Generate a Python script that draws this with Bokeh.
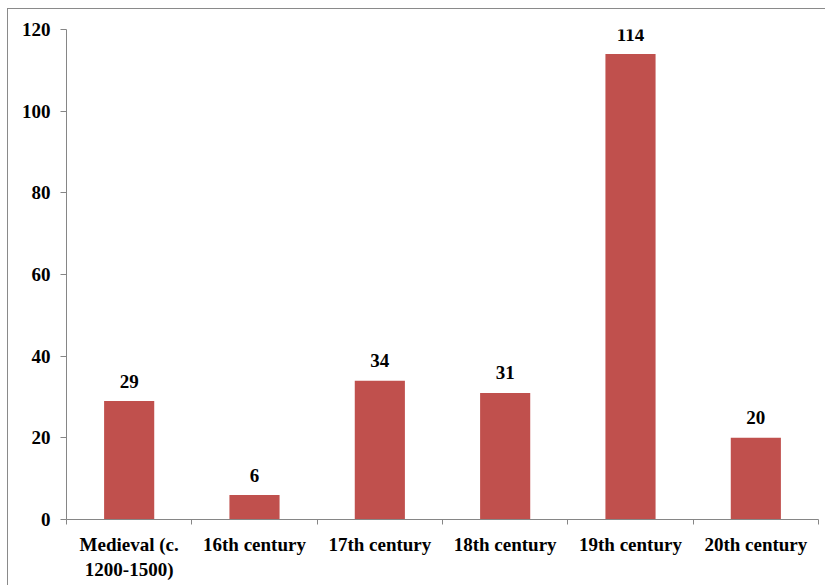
import numpy as np
from bokeh.plotting import figure
from bokeh.models import FixedTicker, ColumnDataSource, Range1d
from bokeh.core.properties import value
from bokeh.embed import file_html
from bokeh.resources import INLINE

categories = ["Medieval (c.\n1200-1500)", "16th century", "17th century",
              "18th century", "19th century", "20th century"]
counts = [29, 6, 34, 31, 114, 20]
y_ticks = [0, 20, 40, 60, 80, 100, 120]

FONT = "Liberation Serif"
BAR = "#C0504D"
AXIS = "#868686"

n = len(categories)
centers = list(np.arange(n) + 0.5)
bounds = list(np.arange(n + 1).astype(float))

src = ColumnDataSource(dict(x=centers, top=counts, lab=[str(v) for v in counts]))

p = figure(width=825, height=585, output_backend="svg", toolbar_location=None,
           x_range=Range1d(0, n), y_range=Range1d(0, 120),
           min_border_left=66, min_border_right=7, min_border_top=29, min_border_bottom=66)
p.border_fill_color = None
p.background_fill_color = "white"
p.styles = {
    "background": "linear-gradient(#8a8a8a,#8a8a8a) 7px 8px / 100% 1px no-repeat, "
                  "linear-gradient(#8a8a8a,#8a8a8a) 7px 8px / 1px 100% no-repeat, white"
}
p.outline_line_color = None
p.grid.visible = False

p.vbar(x="x", top="top", width=0.4, source=src, fill_color=BAR, line_color=None)
p.text(x="x", y="top", text="lab", source=src, text_align="center", text_baseline="alphabetic",
       y_offset=-20, text_font=value(FONT), text_font_style="bold", text_font_size="19px",
       text_color="black")

xa = p.xaxis[0]
xa.ticker = FixedTicker(ticks=centers, minor_ticks=bounds)
xa.major_label_overrides = {c: lab for c, lab in zip(centers, categories)}
xa.major_tick_line_color = None
xa.minor_tick_line_color = AXIS
xa.minor_tick_out = 5
xa.minor_tick_in = 0
xa.axis_line_color = AXIS
xa.major_label_standoff = 8
xa.major_label_text_font = FONT
xa.major_label_text_font_style = "bold"
xa.major_label_text_font_size = "19px"
xa.major_label_text_color = "black"

ya = p.yaxis[0]
ya.ticker = FixedTicker(ticks=y_ticks, minor_ticks=[])
ya.major_tick_line_color = AXIS
ya.major_tick_out = 6
ya.major_tick_in = 0
ya.axis_line_color = AXIS
ya.major_label_standoff = 10
ya.major_label_text_font = FONT
ya.major_label_text_font_style = "bold"
ya.major_label_text_font_size = "19px"
ya.major_label_text_color = "black"

open("out.html", "w").write(file_html(p, INLINE))
